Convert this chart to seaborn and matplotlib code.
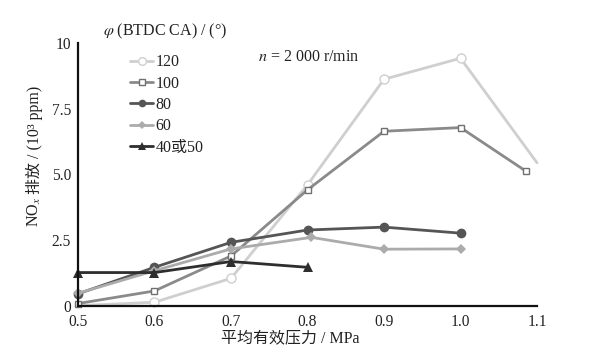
import matplotlib
matplotlib.use("Agg")
import matplotlib.pyplot as plt
import seaborn as sns
import pandas as pd

sns.set_theme(style="white")
plt.rcParams['font.family'] = ['Liberation Serif', 'Noto Sans CJK SC']
plt.rcParams['mathtext.fontset'] = 'stix'

# data
x_120 = [0.5, 0.6, 0.7, 0.8, 0.9, 1.0, 1.1]
y_120 = [0.0, 0.13, 1.04, 4.6, 8.62, 9.42, 5.44]
x_100 = [0.5, 0.6, 0.7, 0.8, 0.9, 1.0, 1.085]
y_100 = [0.08, 0.56, 1.89, 4.41, 6.64, 6.78, 5.13]
x_80 = [0.5, 0.6, 0.7, 0.8, 0.9, 1.0]
y_80 = [0.45, 1.46, 2.41, 2.88, 2.99, 2.76]
x_60 = [0.5, 0.6, 0.7, 0.805, 0.9, 1.0]
y_60 = [0.47, 1.33, 2.16, 2.6, 2.15, 2.16]
x_40 = [0.5, 0.6, 0.7, 0.8]
y_40 = [1.26, 1.26, 1.68, 1.46]
labels = ["120", "100", "80", "60", "40或50"]
x_ticks = [0.5, 0.6, 0.7, 0.8, 0.9, 1.0, 1.1]
x_ticklabels = ["0.5", "0.6", "0.7", "0.8", "0.9", "1.0", "1.1"]
y_ticks = [0, 2.5, 5.0, 7.5, 10]
y_ticklabels = ["0", "2.5", "5.0", "7.5", "10"]

TXT = '#222222'
FS = 11.5

fig = plt.figure(figsize=(5.93, 3.63), dpi=100)
ax = fig.add_axes([0.1315, 0.158, 0.7741, 0.7235])

styles = [
    (x_120, y_120, labels[0], dict(color="#cfcfcf", marker="o", markersize=6.5, markerfacecolor="white",
                                   markeredgecolor="#cfcfcf", markeredgewidth=1.0, markevery=[1, 2, 3, 4, 5]), 5.5),
    (x_100, y_100, labels[1], dict(color="#8a8a8a", marker="s", markersize=4.2, markerfacecolor="white",
                                   markeredgecolor="#707070", markeredgewidth=1.0), 4.0),
    (x_80, y_80, labels[2], dict(color="#555555", marker="o", markersize=7, markeredgewidth=0), 5.5),
    (x_60, y_60, labels[3], dict(color="#ababab", marker="D", markersize=5.5, markeredgewidth=0), 4.5),
    (x_40, y_40, labels[4], dict(color="#2e2e2e", marker="^", markersize=7.5, markeredgewidth=0), 6.0),
]
for xs, ys, lab, kw, _ in styles:
    df = pd.DataFrame({"x": xs, "y": ys})
    sns.lineplot(data=df, x="x", y="y", ax=ax, label=lab, linewidth=2.0, clip_on=False, **kw)

ax.set_xlim(0.5, 1.1)
ax.set_ylim(0, 10)
ax.set_xticks(x_ticks)
ax.set_xticklabels(x_ticklabels)
ax.set_yticks(y_ticks)
ax.set_yticklabels(y_ticklabels)
ax.tick_params(axis='x', direction='out', length=4, width=1.3, labelsize=11.2, pad=2, colors=TXT)
ax.tick_params(axis='y', direction='in', length=4, width=1.3, labelsize=11.2, pad=5, colors=TXT)
for s in ["top", "right"]:
    ax.spines[s].set_visible(False)
for s in ["left", "bottom"]:
    ax.spines[s].set_color("#111111")
    ax.spines[s].set_linewidth(1.6)

ax.set_xlabel("平均有效压力 / MPa", fontsize=FS, color=TXT)
ax.xaxis.set_label_coords((290.5 - 78) / 459, -0.093)
ax.set_ylabel("")

# y label in two pieces (math subscript + CJK text)
yl_x = 39 / 593
y0 = 1 - 227 / 363
t1 = fig.text(yl_x, y0, "NO$_x$", rotation=90, rotation_mode='anchor', ha='left', va='baseline',
              fontsize=FS, color=TXT)
fig.canvas.draw()
bb = t1.get_window_extent(renderer=fig.canvas.get_renderer())
y1 = y0 + (bb.height + 3) / fig.bbox.height
fig.text(yl_x, y1, "排放 / (10³ ppm)", rotation=90, rotation_mode='anchor', ha='left', va='baseline',
         fontsize=FS, color=TXT)

fig.text(103 / 593, 1 - 31 / 363, r"$\varphi$ (BTDC CA) / (°)", fontsize=FS, va="center", ha="left", color=TXT)
fig.text(258 / 593, 1 - 57 / 363, "$n$ = 2 000 r/min", fontsize=FS, va="center", ha="left", color=TXT)

leg = ax.legend(loc="upper left", bbox_to_anchor=(130 / 593, 1 - 54.5 / 363), bbox_transform=fig.transFigure,
                frameon=False, fontsize=FS, handlelength=1.45, handletextpad=0.15, labelspacing=0.33,
                borderpad=0, borderaxespad=0)
for t in leg.get_texts():
    t.set_color(TXT)
for h, st in zip(leg.legend_handles, styles):
    h.set_markersize(st[4])

fig.savefig("out.png", dpi=100)
